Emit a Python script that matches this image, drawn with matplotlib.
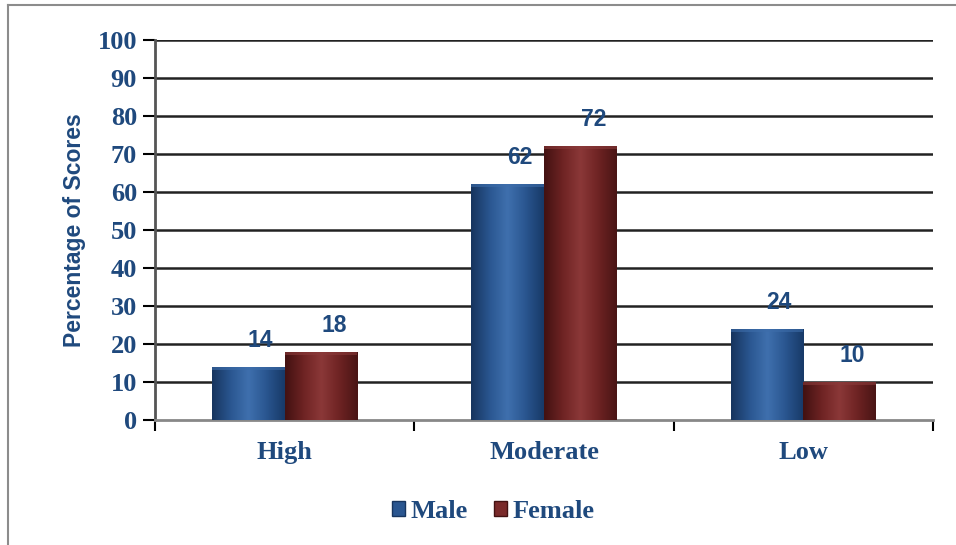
import numpy as np
import matplotlib.pyplot as plt
from matplotlib.patches import Rectangle
from matplotlib.colors import LinearSegmentedColormap
from matplotlib.lines import Line2D

# data
categories = ["High", "Moderate", "Low"]
male = [14, 62, 24]
female = [18, 72, 10]
y_ticks = list(range(0, 101, 10))

text_blue = "#1F497D"
serif = "Liberation Serif"

# cylinder-like shading for each series
male_cmap = LinearSegmentedColormap.from_list(
    "male", ["#17355F", "#2A5690", "#3F70AE", "#2A5690", "#183A68"])
female_cmap = LinearSegmentedColormap.from_list(
    "female", ["#431212", "#6E2323", "#8B3838", "#6E2323", "#4A1515"])

fig = plt.figure(figsize=(9.56, 5.45), dpi=100)
ax = fig.add_axes([155 / 956, 125 / 545, 778 / 956, 380 / 545])

x = np.arange(len(categories))
width = 0.28
ax.set_xlim(-0.5, len(categories) - 0.5)
ax.set_ylim(0, 100)

# horizontal grid lines
for t in y_ticks[1:]:
    ax.axhline(t, color="#222222", linewidth=1.8, zorder=1)

grad = np.linspace(0, 1, 64).reshape(1, -1)


def shaded_bar(x0, h, cmap, edge):
    rect = Rectangle((x0, 0), width, h, facecolor="none", edgecolor="none", zorder=3)
    ax.add_patch(rect)
    im = ax.imshow(grad, cmap=cmap, aspect="auto", extent=(x0, x0 + width, 0, h),
                   zorder=3, interpolation="bicubic")
    im.set_clip_path(rect)
    # slightly lighter top cap
    ax.add_patch(Rectangle((x0, h - 0.8), width, 0.8, facecolor=edge,
                           edgecolor="none", alpha=0.6, zorder=4))


label_kw = dict(ha="center", va="center", fontsize=16.5, fontweight="bold",
                color=text_blue, family="Liberation Sans")
for i in range(len(categories)):
    shaded_bar(x[i] - width, male[i], male_cmap, "#3D6DAA")
    shaded_bar(x[i], female[i], female_cmap, "#8A3A3A")
    ax.text(x[i] - width / 2 + 0.045, male[i] + 7, str(male[i]), **label_kw)
    ax.text(x[i] + width / 2 + 0.05, female[i] + 7, str(female[i]), **label_kw)

ax.set_xlim(-0.5, len(categories) - 0.5)
ax.set_ylim(0, 100)

# axes styling
for s in ["top", "right"]:
    ax.spines[s].set_visible(False)
ax.spines["left"].set_color("#555555")
ax.spines["left"].set_linewidth(2)
ax.spines["bottom"].set_color("#888888")
ax.spines["bottom"].set_linewidth(2)

ax.set_yticks(y_ticks)
ax.set_yticklabels([str(t) for t in y_ticks], family=serif, fontweight="bold",
                   fontsize=19, color=text_blue)
ax.tick_params(axis="y", length=9, width=1.5, color="black", pad=4)

ax.set_xticks(x)
ax.set_xticklabels(categories, family=serif, fontweight="bold", fontsize=19,
                   color=text_blue)
ax.tick_params(axis="x", length=0, pad=15)
ax.set_xticks(np.arange(-0.5, len(categories), 1), minor=True)
ax.tick_params(axis="x", which="minor", length=8, width=1.5, color="black")

ax.set_ylabel("Percentage of Scores", family="Liberation Sans", fontweight="bold",
              fontsize=16.5, color=text_blue, labelpad=8)

handles = [
    Rectangle((0, 0), 1, 1, facecolor="#2A5690", edgecolor="#17355F"),
    Rectangle((0, 0), 1, 1, facecolor="#7A2A2A", edgecolor="#431212"),
]
leg = fig.legend(handles, ["Male", "Female"], loc="center", ncol=2,
                 bbox_to_anchor=(493 / 956, 34 / 545), frameon=False,
                 handlelength=0.5, handleheight=0.5, handletextpad=0.2,
                 columnspacing=1.0,
                 prop={"family": serif, "weight": "bold", "size": 19})
for t in leg.get_texts():
    t.set_color(text_blue)

# outer chart frame
fig.add_artist(Line2D([8 / 956, 8 / 956], [0, 1 - 5 / 545], transform=fig.transFigure,
                      color="#8C8C8C", linewidth=1.5))
fig.add_artist(Line2D([8 / 956, 1], [1 - 5 / 545, 1 - 5 / 545], transform=fig.transFigure,
                      color="#8C8C8C", linewidth=1.5))

fig.savefig("out.png", dpi=100)
